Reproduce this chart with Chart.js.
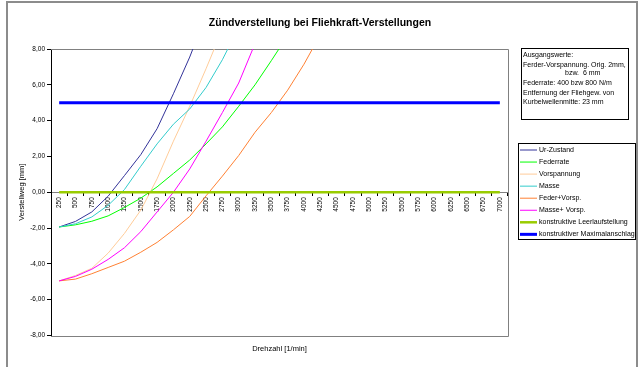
<!DOCTYPE html>
<html>
<head>
<meta charset="utf-8">
<title>Zündverstellung bei Fliehkraft-Verstellungen</title>
<script src="https://cdn.jsdelivr.net/npm/chart.js@4.4.1/dist/chart.umd.min.js"></script>
<style>
  body { margin: 0; background: #fff; }
  canvas { display: block; }
</style>
</head>
<body>
<canvas id="myChart" width="640" height="367"></canvas>
<script>
'use strict';
//--------------------DATA

// Drehzahl [1/min] (category axis)
const drehzahl = ['250', '500', '750', '1000', '1250', '1500', '1750', '2000', '2250', '2500',
  '2750', '3000', '3250', '3500', '3750', '4000', '4250', '4500', '4750', '5000',
  '5250', '5500', '5750', '6000', '6250', '6500', '6750', '7000'];

// Verstellweg [mm] per curve (lines leave the plot at 8,00)
const urZustand = [-1.94, -1.63, -1.1, -0.22, 0.93, 2.1, 3.55, 5.5, 7.55, 9.9];
const federrate = [-1.94, -1.82, -1.62, -1.32, -0.85, -0.33, 0.3, 1.05, 1.8, 2.7, 3.65, 4.8, 6.0, 7.35, 8.75];
const vorspannung = [-4.95, -4.65, -4.25, -3.4, -2.3, -1.0, 0.75, 2.85, 4.8, 6.9, 9.1];
const masse = [-1.94, -1.76, -1.38, -0.73, 0.15, 1.45, 2.7, 3.8, 4.65, 5.85, 7.4, 9.2];
const federVorsp = [-4.95, -4.85, -4.55, -4.2, -3.85, -3.35, -2.8, -2.1, -1.35, -0.2, 0.9, 2.05, 3.35, 4.45, 5.7, 7.15, 8.8];
const masseVorsp = [-4.95, -4.7, -4.3, -3.75, -3.1, -2.2, -1.1, 0.0, 1.3, 2.85, 4.45, 6.1, 8.3];
const leerlauf = [0, 0, 0, 0, 0, 0, 0, 0, 0, 0, 0, 0, 0, 0, 0, 0, 0, 0, 0, 0, 0, 0, 0, 0, 0, 0, 0, 0];
const maximal = [5, 5, 5, 5, 5, 5, 5, 5, 5, 5, 5, 5, 5, 5, 5, 5, 5, 5, 5, 5, 5, 5, 5, 5, 5, 5, 5, 5];

// y tick range
const yMin = -8;
const yMax = 8;
const yStep = 2;

// text box top right
const ausgangswerte = [
  'Ausgangswerte:',
  'Ferder-Vorspannung. Orig. 2mm,',
  'bzw.  6 mm',
  'Federrate: 400 bzw 800 N/m',
  'Entfernung der Fliehgew. von',
  'Kurbelwellenmitte: 23 mm',
];

const FONT = 'Arial, "Liberation Sans", sans-serif';

//--------------------FUNCTIONS

function makeLine(label, data, color, width, order) {
  return {
    label: label,
    data: data,
    borderColor: color,
    backgroundColor: color,
    borderWidth: width,
    pointRadius: 0,
    tension: 0,
    fill: false,
    order: order,
  };
}

// format 8 -> "8,00"
function germanNumber(v) {
  return Number(v).toFixed(2).replace('.', ',');
}

//--------------------PLUGIN (frame, plot border, legend boxes)

const frames = {
  id: 'frames',
  beforeDraw(chart) {
    const ctx = chart.ctx;
    ctx.save();
    ctx.fillStyle = '#fff';
    ctx.fillRect(0, 0, chart.width, chart.height);
    ctx.strokeStyle = '#8c8c8c';
    ctx.lineWidth = 2;
    ctx.strokeRect(7, 2, 630, 380);
    ctx.restore();
  },
  beforeDatasetsDraw(chart) {
    const ctx = chart.ctx;
    const a = chart.chartArea;
    ctx.save();
    ctx.strokeStyle = '#808080';
    ctx.lineWidth = 1;
    ctx.beginPath();
    ctx.moveTo(a.left, Math.round(a.top) + 0.5);
    ctx.lineTo(Math.round(a.right) + 0.5, Math.round(a.top) + 0.5);
    ctx.lineTo(Math.round(a.right) + 0.5, Math.round(a.bottom) + 0.5);
    ctx.lineTo(a.left, Math.round(a.bottom) + 0.5);
    ctx.stroke();
    ctx.restore();
  },
  afterDraw(chart) {
    const ctx = chart.ctx;
    ctx.save();

    // Ausgangswerte box
    ctx.fillStyle = '#fff';
    ctx.fillRect(521, 48, 108, 71);
    ctx.strokeStyle = '#000';
    ctx.lineWidth = 1;
    ctx.strokeRect(521.5, 48.5, 107, 71);
    ctx.fillStyle = '#000';
    ctx.font = '7px ' + FONT;
    ctx.textBaseline = 'middle';
    ctx.textAlign = 'left';
    const textY = [55, 65, 73, 83, 93, 102];
    for (let i = 0; i < ausgangswerte.length; i++) {
      let x = (i === 2) ? 565 : 523;
      ctx.fillText(ausgangswerte[i], x, textY[i]);
    }

    // legend box
    ctx.fillStyle = '#fff';
    ctx.fillRect(518, 143, 117, 96);
    ctx.strokeRect(518.5, 143.5, 117, 96);
    const sets = chart.data.datasets;
    for (let i = 0; i < sets.length; i++) {
      let y = 150 + i * 12.05;
      ctx.strokeStyle = sets[i].borderColor;
      ctx.lineWidth = sets[i].borderWidth;
      ctx.beginPath();
      ctx.moveTo(520, y);
      ctx.lineTo(537, y);
      ctx.stroke();
      ctx.fillStyle = '#000';
      ctx.fillText(sets[i].label, 539, y);
    }
    ctx.restore();
  }
};

//--------------------CHART

const data = {
  labels: drehzahl,
  datasets: [
    makeLine('Ur-Zustand', urZustand, '#333399', 1, 7),
    makeLine('Federrate', federrate, '#00ff00', 1, 6),
    makeLine('Vorspannung', vorspannung, '#ffcc99', 1, 5),
    makeLine('Masse', masse, '#33cccc', 1, 4),
    makeLine('Feder+Vorsp.', federVorsp, '#ff8033', 1, 3),
    makeLine('Masse+ Vorsp.', masseVorsp, '#ff00ff', 1, 2),
    makeLine('konstruktive Leerlaufstellung', leerlauf, '#99cc00', 2.5, 1),
    makeLine('konstruktiver Maximalanschlag', maximal, '#0000ff', 3, 0),
  ],
};

const config = {
  type: 'line',
  data: data,
  plugins: [frames],
  options: {
    responsive: false,
    animation: false,
    devicePixelRatio: 1,
    layout: { padding: 0 },
    plugins: {
      legend: { display: false },
      tooltip: { enabled: false },
      title: {
        display: true,
        text: 'Zündverstellung bei Fliehkraft-Verstellungen',
        color: '#000',
        font: { family: FONT, size: 10.5, weight: 'bold', lineHeight: 1.2 },
        padding: { top: 17, bottom: 19.4 },
      },
    },
    scales: {
      x: {
        type: 'category',
        position: { y: 0 },
        offset: true,
        afterFit: (scale) => { scale.height = 0; },
        grid: { offset: true, drawOnChartArea: false, drawTicks: true, tickLength: 3, color: '#000' },
        border: { color: '#808080', width: 1 },
        ticks: {
          autoSkip: false,
          minRotation: 90,
          maxRotation: 90,
          padding: 2,
          color: '#000',
          font: { family: FONT, size: 6.5 },
        },
      },
      // only carries the axis title at the bottom
      x2: {
        type: 'category',
        axis: 'x',
        position: 'bottom',
        offset: true,
        afterFit: (scale) => { scale.height = 31.5; },
        grid: { display: false },
        border: { display: false },
        ticks: { display: false },
        title: {
          display: true,
          text: 'Drehzahl [1/min]',
          color: '#000',
          font: { family: FONT, size: 7.5, lineHeight: 1.2 },
          padding: { top: 0, bottom: 13.5 },
        },
      },
      y: {
        min: yMin,
        max: yMax,
        afterFit: (scale) => { scale.width = 51; },
        grid: { drawOnChartArea: false, drawTicks: true, tickLength: 4, color: '#000' },
        border: { color: '#000', width: 1 },
        ticks: {
          stepSize: yStep,
          padding: 2,
          color: '#000',
          font: { family: FONT, size: 6.5 },
          callback: (v) => germanNumber(v),
        },
        title: {
          display: true,
          text: 'Verstellweg [mm]',
          color: '#000',
          font: { family: FONT, size: 7.5, lineHeight: 1.2 },
          padding: { top: 17, bottom: 0 },
        },
      },
      // empty right axis keeps room for the two boxes
      y2: {
        type: 'linear',
        axis: 'y',
        position: 'right',
        min: yMin,
        max: yMax,
        afterFit: (scale) => { scale.width = 132; },
        grid: { display: false },
        border: { display: false },
        ticks: { display: false },
      },
    },
  },
};

const myChart = new Chart(document.getElementById('myChart'), config);
</script>
</body>
</html>
